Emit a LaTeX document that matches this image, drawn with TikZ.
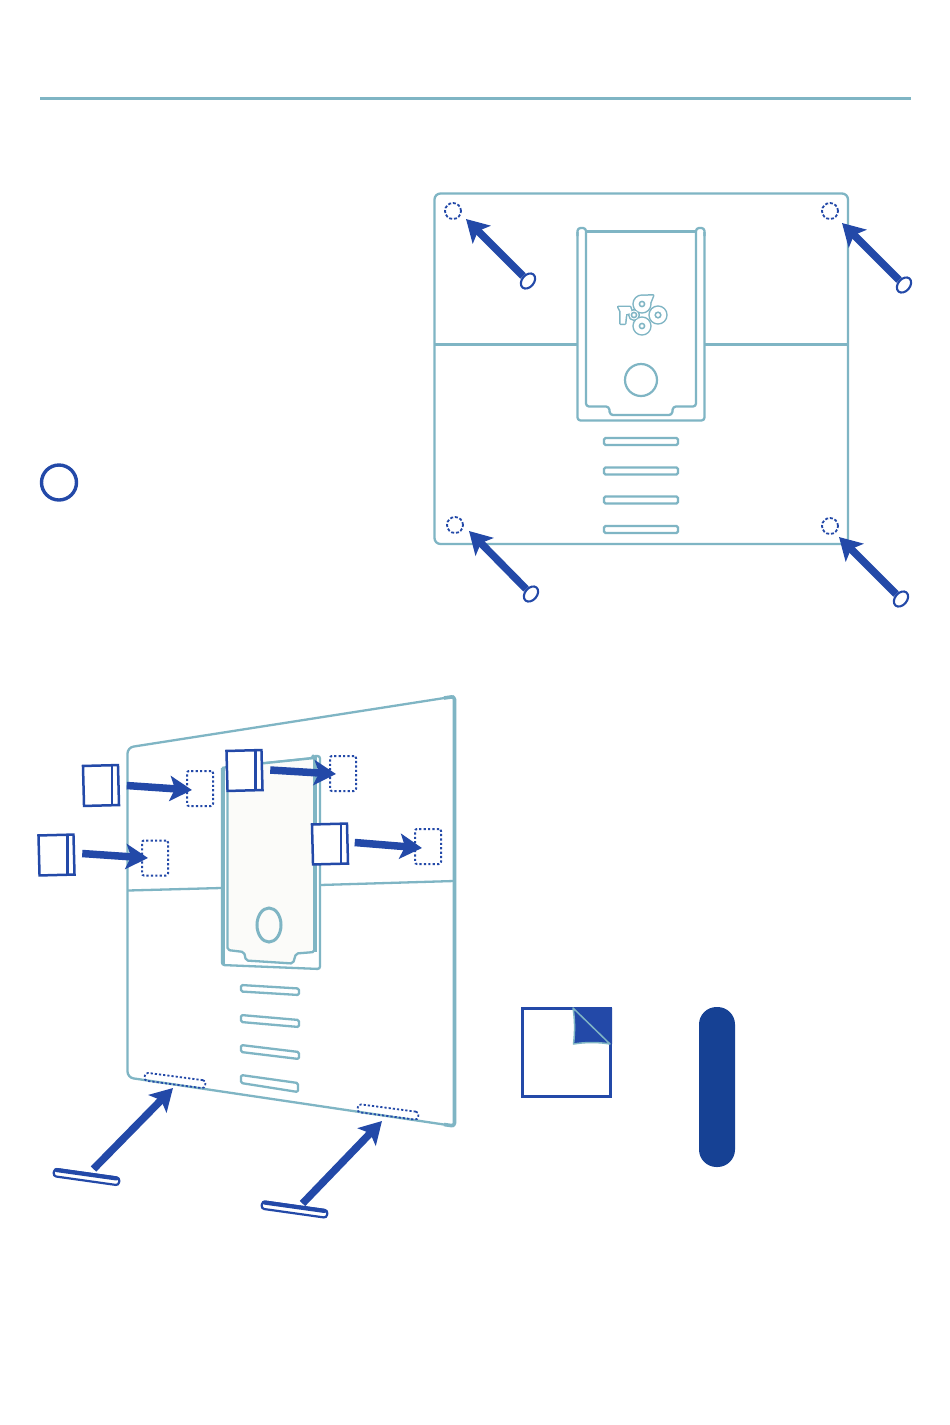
\documentclass[tikz,border=0pt]{standalone}
\usetikzlibrary{arrows.meta,shapes.geometric}
\definecolor{teal1}{HTML}{7FB5C4}
\definecolor{blue1}{HTML}{2349A8}
\definecolor{blue2}{HTML}{164194}
\tikzset{
  tl/.style={draw=teal1,line width=2.3pt,line join=round},
  tlb/.style={draw=teal1,line width=3.6pt,line join=round},
  arr/.style={draw=blue1,line width=7.5pt,-{Stealth[length=22pt,width=25pt,inset=5pt]}},
  hole/.style={circle,draw=blue1,line width=1.8pt,dash pattern=on 3pt off 1.8pt,minimum size=16pt,inner sep=0pt},
  foot/.style={ellipse,draw=blue1,fill=white,line width=2.1pt,minimum width=17pt,minimum height=12pt,inner sep=0pt,rotate=50},
  dbox/.style={rectangle,draw=blue1,line width=2pt,dash pattern=on 2.2pt off 2.2pt,rounded corners=2pt,minimum width=26pt,minimum height=35pt,inner sep=0pt},
  dpill/.style={rectangle,draw=blue1,line width=1.8pt,dash pattern=on 2.2pt off 2pt,rounded corners=3pt,minimum width=61pt,minimum height=8pt,inner sep=0pt,rotate=-7.5},
  pad/.style={rectangle,draw=blue1,fill=white,line width=2.5pt,minimum width=35pt,minimum height=40pt,inner sep=0pt,rotate=1.5},
  strip/.style={rectangle,draw=blue1,fill=white,line width=2.2pt,rounded corners=3pt,minimum width=66pt,minimum height=7.5pt,inner sep=0pt,rotate=-8},
  slot/.style={rectangle,draw=teal1,line width=2.2pt,rounded corners=1.5pt,minimum width=74pt,minimum height=7pt,inner sep=0pt},
  divd/.style={draw=blue1,line width=2.3pt},
  stripedge/.style={draw=blue1,line width=4.2pt,line cap=round},
  ringo/.style={draw=teal1,line width=3pt,line join=round},
  ringi/.style={draw=teal1,line width=1.5pt},
}
\begin{document}
\begin{tikzpicture}[x=1pt,y=-1pt]
\useasboundingbox (0,0) rectangle (950,1425);
\fill[white] (0,0) rectangle (950,1425);
\draw[draw=teal1,line width=3.4pt] (40,98.5) -- (911,98.5);
\node[circle,draw=blue1,line width=3.4pt,fill=white,minimum size=35pt,inner sep=0pt] (badge) at (59,482.5) {};

% --- top panel
\draw[tl,rounded corners=6pt] (434.5,193.5) rectangle (848,544);
\draw[tl] (434.5,344.5) -- (577,344.5);
\draw[tl] (705,344.5) -- (848,344.5);
% clip
\draw[tl,rounded corners=3pt] (577.5,232) -- (577.5,420.5) -- (704.5,420.5) -- (704.5,232);
\draw[tl,rounded corners=3pt] (577.5,236) -- (577.5,228) -- (586,228) -- (586,406.5) -- (609,406.5) -- (610,415) -- (672,415) -- (673,406.5) -- (696,406.5) -- (696,228) -- (704.5,228) -- (704.5,236);
\draw[tl] (586,231.5) -- (696,231.5);
\node[circle,draw=teal1,line width=2.2pt,minimum size=32pt,inner sep=0pt] (knob) at (641,380) {};
% logo
\def\logoShape{
  (642,304) circle[radius=8.2]
  (642,326) circle[radius=8.2]
  (634,315) circle[radius=4.5]
  (643,296) -- (653,295.5) -- (650,303) -- (643,303) -- cycle
  (618.5,307) -- (630,307) -- (632,313) -- (626,314) -- (625,323.5) -- (620.5,323.5) -- (620.5,311) -- cycle
}
\draw[ringo] \logoShape;
\fill[white] \logoShape;
\draw[ringo] (658,315) circle[radius=8.2];
\fill[white] (658,315) circle[radius=8.2];
\draw[ringi] (642,304) circle[radius=2.6];
\draw[ringi] (642,326) circle[radius=2.6];
\draw[ringi] (634,315) circle[radius=2.6];
\draw[ringi] (658,315) circle[radius=2.8];
\node[slot] (s1) at (641,441.5) {};
\node[slot] (s2) at (641,471) {};
\node[slot] (s3) at (641,500) {};
\node[slot] (s4) at (641,529.5) {};

\node[hole] (h1) at (453,211) {};
\node[hole] (h2) at (830,211) {};
\node[hole] (h3) at (455,525) {};
\node[hole] (h4) at (830,526) {};
\node[foot] (f1) at (528,281) {};
\node[foot] (f2) at (904,285) {};
\node[foot] (f3) at (531,594) {};
\node[foot] (f4) at (901,599) {};
\draw[arr] (f1) -- ([shift={(13,8)}]h1.center);
\draw[arr] (f2) -- ([shift={(12,12)}]h2.center);
\draw[arr] (f3) -- ([shift={(14,6)}]h3.center);
\draw[arr] (f4) -- ([shift={(9,11)}]h4.center);

% --- bottom panel
\draw[tl,rounded corners=6pt] (454,696.5) -- (127.5,747.5) -- (127.5,1077.5) -- (454,1126);
\draw[tlb,rounded corners=3pt] (444,698) -- (454.5,696.5) -- (454.5,1126) -- (444,1124.5);
\draw[tl] (128,890.5) -- (221,888);
\draw[tl] (320,885) -- (454,881);
% perspective clip
\draw[tl,fill=white,rounded corners=2.5pt] (222,768) -- (222,965) -- (320,969) -- (320,756) -- (313,756) -- (313,758) -- (227,767) -- (222,768);
\draw[tl,fill={rgb,255:red,251;green,251;blue,249},rounded corners=2pt] (227.5,767) -- (227.5,950) -- (244,952) -- (246,960.5) -- (293,963.5) -- (296,953.5) -- (314.5,952) -- (314.5,758) -- cycle;
\draw[tlb] (223,768) -- (223,964);
\draw[tlb] (315,757) -- (315,952);
\node[ellipse,draw=teal1,line width=3pt,minimum width=24pt,minimum height=34pt,inner sep=0pt] (knob2) at (269,925) {};
\begin{scope}[tl,rounded corners=1.5pt]
\draw (241,985) -- (299,988.5) -- (299,995) -- (241,991.5) -- cycle;
\draw (241,1015) -- (299,1020) -- (299,1027) -- (241,1022) -- cycle;
\draw (241,1045) -- (299,1052) -- (299,1059) -- (241,1052) -- cycle;
\draw (241,1075) -- (298,1083) -- (298,1092) -- (241,1083) -- cycle;
\end{scope}

\node[dbox] (d1) at (200,788.5) {};
\node[dbox] (d2) at (155,858) {};
\node[dbox] (d3) at (343,773.5) {};
\node[dbox] (d4) at (428,846.5) {};
\node[pad] (p1) at (101,785.5) {};
\node[pad] (p2) at (56.5,855) {};
\node[pad] (p3) at (244.5,770.5) {};
\node[pad] (p4) at (330,844) {};
\draw[divd] (112,766) -- (112,805.5);
\draw[divd] (67.5,835) -- (67.5,875);
\draw[divd] (255.5,750.5) -- (255.5,790.5);
\draw[divd] (341,824) -- (341,864);
\draw[arr] ([shift={(7,0.5)}]p1.east) -- ([shift={(6,1.5)}]d1.west);
\draw[arr] ([shift={(7,-1)}]p2.east) -- ([shift={(7,0)}]d2.west);
\draw[arr] ([shift={(7,0)}]p3.east) -- ([shift={(7,0.5)}]d3.west);
\draw[arr] ([shift={(6,-1)}]p4.east) -- ([shift={(8,1.5)}]d4.west);

\node[dpill] (q1) at (175,1080.5) {};
\node[dpill] (q2) at (388,1112) {};
\node[strip] (t1) at (86.5,1177) {};
\node[strip] (t2) at (294.5,1209.5) {};
\draw[stripedge] ([shift={(-30,-7)}]t1.center) -- ([shift={(30,1.4)}]t1.center);
\draw[stripedge] ([shift={(-30,-7)}]t2.center) -- ([shift={(30,1.4)}]t2.center);
\draw[arr] ([shift={(7,-8)}]t1.center) -- ([shift={(-2,7.5)}]q1.center);
\draw[arr] ([shift={(8,-6)}]t2.center) -- ([shift={(-6,9)}]q2.center);

% --- peel-off square
\node[rectangle,draw=blue1,line width=3.4pt,minimum width=88pt,minimum height=88pt,inner sep=0pt] (sticker) at (566.5,1052.5) {};
\fill[blue1] (573,1008) -- (612,1008) -- (612,1044) -- (610,1044) .. controls (598,1042) and (586,1042) .. (573.5,1044) .. controls (575,1032) and (575,1020) .. cycle;
\draw[draw=teal1,line width=1.5pt,line join=round] (573,1008) .. controls (575,1020) and (575,1032) .. (573.5,1044) .. controls (586,1042) and (598,1042) .. (610,1044) -- cycle;
% --- pill
\node[rectangle,fill=blue2,rounded corners=17.5pt,minimum width=36pt,minimum height=160pt,inner sep=0pt] (pill) at (717,1087) {};
\end{tikzpicture}
\end{document}
